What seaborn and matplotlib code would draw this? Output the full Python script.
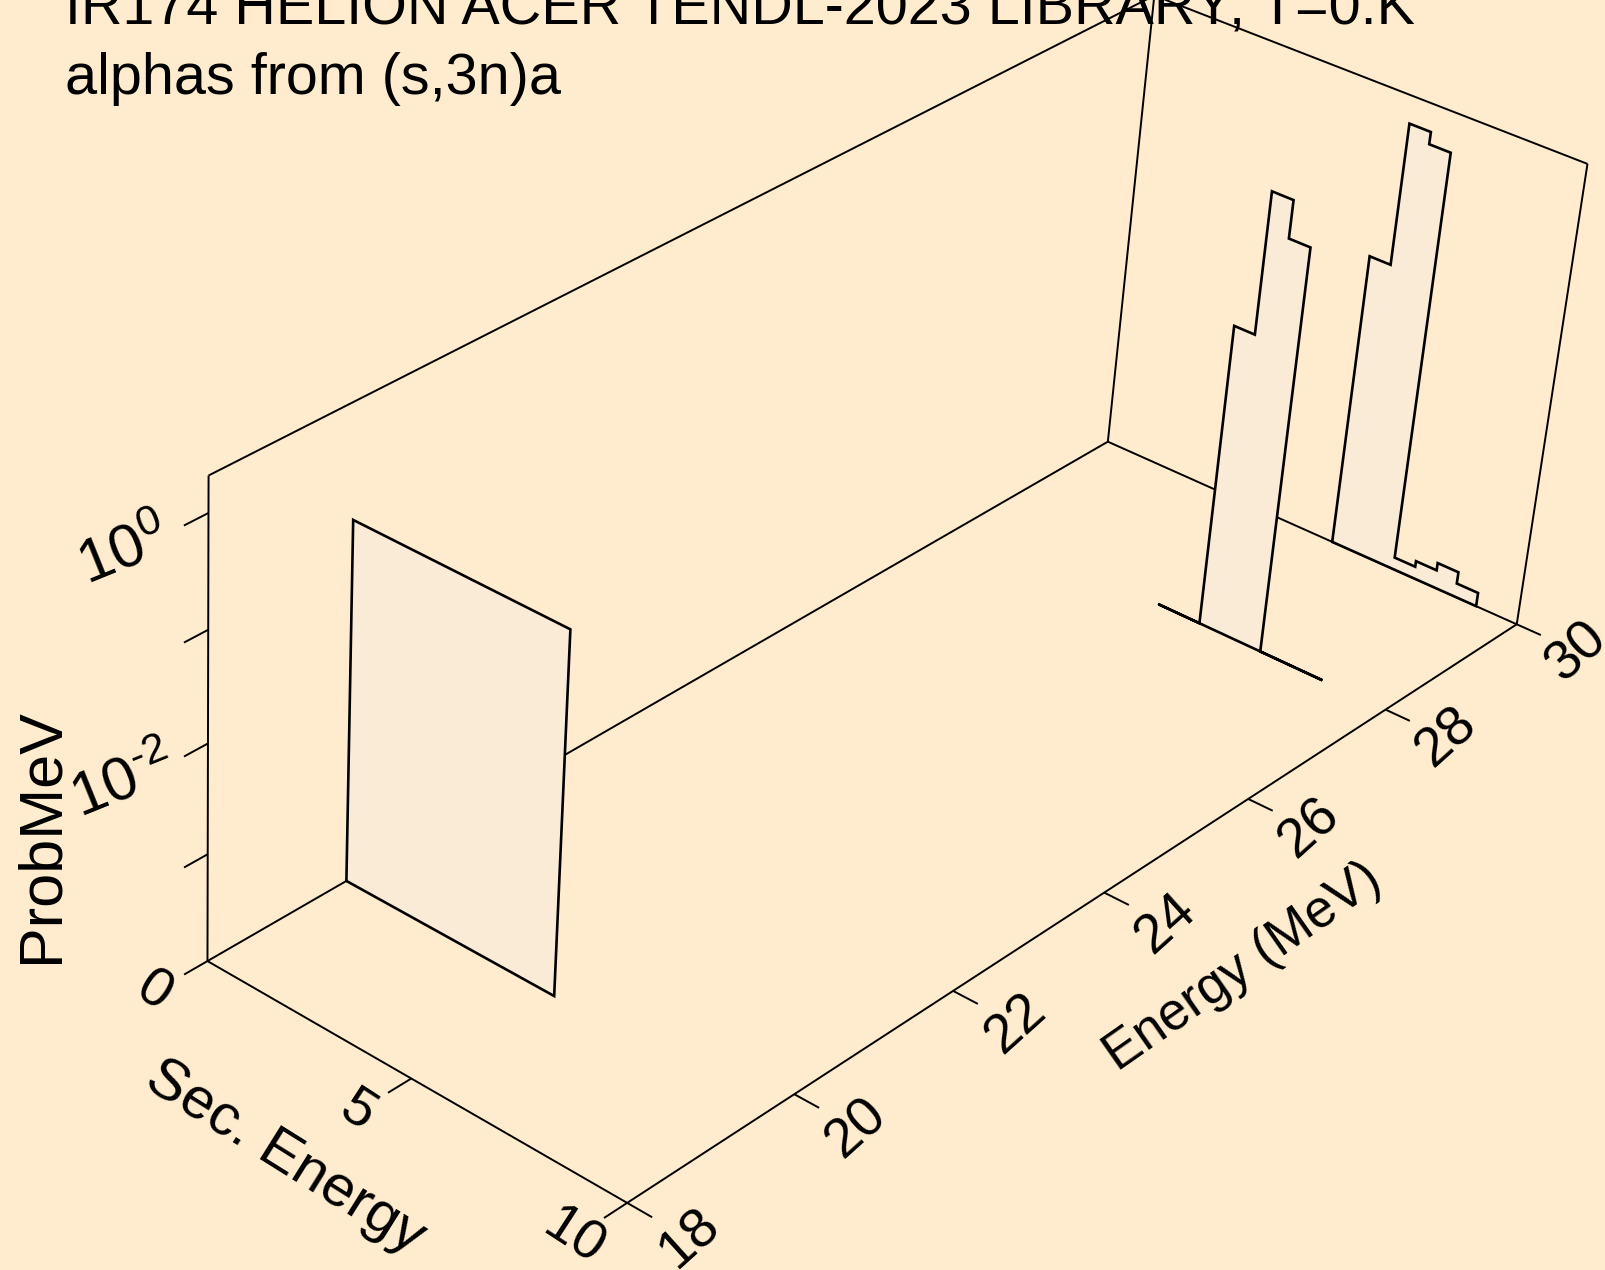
import numpy as np
import matplotlib
matplotlib.use("Agg")
import matplotlib.pyplot as plt
import seaborn as sns

sns.set_theme(style="white")
plt.rcParams["font.family"] = ["Liberation Sans", "DejaVu Sans"]
plt.rcParams["mathtext.fontset"] = "custom"
plt.rcParams["mathtext.rm"] = "Liberation Sans"
plt.rcParams["mathtext.it"] = "Liberation Sans:italic"

# ---------------------------------------------------------------- data
TITLE_LINES = ["IR174 HELION ACER TENDL-2023 LIBRARY; T=0.K", "alphas from (s,3n)a"]
SEC_LABEL = "Sec. Energy"
ENERGY_LABEL = "Energy (MeV)"
PROB_LABEL = "ProbMeV"

SEC_TICKS = [0, 5, 10]
ENERGY_TICKS = [18, 20, 22, 24, 26, 28, 30]
PROB_MAJOR_EXP = [0, -2]
PROB_MINOR_EXP = [-1, -3]

SEC_RANGE = (0.0, 10.0)
ENERGY_RANGE = (18.0, 30.0)
LOG_PROB_RANGE = (-3.99, 0.315)

# incident energies (MeV) and secondary-alpha spectra (histograms, prob/MeV)
incident_energy = [19.646, 28.0, 30.0]
sec_edges_1 = [0.0, 5.1]
prob_1 = [0.196]
sec_edges_2 = [4.62, 5.11, 5.60, 6.08, 6.57, 7.06, 7.55, 8.04, 8.53]
prob_2 = [0.0, 0.0, 0.0693, 1.371, 0.622, 0.0, 0.0, 0.0]
sec_edges_3 = [5.61, 6.10, 6.59, 7.08, 7.57, 8.06, 8.55, 9.05]
prob_3 = [0.0587, 1.167, 0.904, 1.33e-4, 1.51e-4, 1.78e-4, 1.38e-4]

spectra = [
    (incident_energy[0], sec_edges_1, prob_1),
    (incident_energy[1], sec_edges_2, prob_2),
    (incident_energy[2], sec_edges_3, prob_3),
]

# ---------------------------------------------------------------- view
BG = "#FFEBCD"
FILL = "#FAEBD7"
INK = "black"
W, H = 1605, 1270

# perspective camera: normalised box coords (u, v, w, 1) -> page pixels
VIEW = np.array([
    [384.78957, 1064.0437, -10.411268, 207.4651],
    [174.81639, -454.15404, -511.81983, 961.07257],
    [-0.055702171, 0.14772208, -0.055220181, 1.0],
])
ZMIN, ZMAX = LOG_PROB_RANGE


def project(sec, energy, logp):
    sec, energy, logp = np.broadcast_arrays(np.asarray(sec, float),
                                            np.asarray(energy, float),
                                            np.asarray(logp, float))
    u = (sec - SEC_RANGE[0]) / (SEC_RANGE[1] - SEC_RANGE[0])
    v = (energy - ENERGY_RANGE[0]) / (ENERGY_RANGE[1] - ENERGY_RANGE[0])
    w = (logp - ZMIN) / (ZMAX - ZMIN)
    h = VIEW @ np.vstack([u.ravel(), v.ravel(), w.ravel(), np.ones(u.size)])
    return (h[0] / h[2]).reshape(u.shape), (h[1] / h[2]).reshape(u.shape)


def step_outline(edges, probs):
    e = np.asarray(edges, float)
    p = np.asarray(probs, float)
    lz = np.full(p.shape, ZMIN)
    pos = p > 0
    lz[pos] = np.maximum(np.log10(p[pos]), ZMIN)
    s, z = [e[0]], [ZMIN]
    for i in range(len(p)):
        s += [e[i], e[i + 1]]
        z += [lz[i], lz[i]]
    s.append(e[-1])
    z.append(ZMIN)
    s.append(e[0])
    z.append(ZMIN)
    return np.array(s), np.array(z)


fig = plt.figure(figsize=(W / 100, H / 100), dpi=100, facecolor=BG)
ax = fig.add_axes([0, 0, 1, 1])
ax.set_facecolor(BG)

BOX_LW = 1.4
CURVE_LW = 1.9


def edge(p, q, zorder, lw=BOX_LW):
    xs, ys = project([p[0], q[0]], [p[1], q[1]], [p[2], q[2]])
    ax.plot(xs, ys, color=INK, lw=lw, zorder=zorder, solid_capstyle="butt")


s0, s1 = SEC_RANGE
e0, e1 = ENERGY_RANGE

# back walls of the box
for p, q in [((s0, e0, ZMIN), (s0, e1, ZMIN)), ((s0, e1, ZMIN), (s1, e1, ZMIN)),
             ((s0, e0, ZMIN), (s0, e0, ZMAX)), ((s0, e1, ZMIN), (s0, e1, ZMAX)),
             ((s1, e1, ZMIN), (s1, e1, ZMAX)), ((s0, e0, ZMAX), (s0, e1, ZMAX)),
             ((s0, e1, ZMAX), (s1, e1, ZMAX))]:
    edge(p, q, zorder=1)

# spectra, far to near
for k, (energy, edges, probs) in enumerate(sorted(spectra, key=lambda t: -t[0])):
    ss, zz = step_outline(edges, probs)
    xs, ys = project(ss, np.full(ss.size, energy), zz)
    ax.fill(xs, ys, color=FILL, zorder=2 + k, lw=0)
    sns.lineplot(x=xs, y=ys, sort=False, estimator=None, color=INK, linewidth=CURVE_LW,
                 ax=ax, zorder=2 + k)
    ax.lines[-1].set_solid_joinstyle("miter")

# front axes
edge((s0, e0, ZMIN), (s1, e0, ZMIN), zorder=6)
edge((s1, e0, ZMIN), (s1, e1, ZMIN), zorder=6)

TICK_E = 0.27   # tick length along energy (MeV)
TICK_S = 0.56   # tick length along secondary energy (MeV)
TICK_FS = 40

for z in PROB_MAJOR_EXP + PROB_MINOR_EXP:
    edge((s0, e0, z), (s0, e0 - TICK_E, z), zorder=6)
for z in PROB_MAJOR_EXP:
    x, y = project(s0, e0, z)
    expo = r"\mathit{%d}" % z if z >= 0 else r"\text{-}\mathit{%d}" % abs(z)
    ax.text(float(x) - 84, float(y) + 40, r"$\mathit{10}^{%s}$" % expo, fontsize=44,
            rotation=22, ha="center", va="center", color=INK, zorder=7)

for s in SEC_TICKS:
    edge((s, e0, ZMIN), (s, e0 - TICK_E, ZMIN), zorder=6)
    x, y = project(s, e0 - 0.62, ZMIN)
    ax.text(float(x), float(y), f"{s}", fontsize=TICK_FS, rotation=-33,
            ha="center", va="center", color=INK, zorder=7)

for e in ENERGY_TICKS:
    edge((s1, e, ZMIN), (s1 + TICK_S, e, ZMIN), zorder=6)
    x, y = project(s1 + 1.4, e, ZMIN)
    ax.text(float(x), float(y), f"{e}", fontsize=TICK_FS, rotation=42,
            ha="center", va="center", color=INK, zorder=7)

# axis titles
ax.text(285, 1157, SEC_LABEL, fontsize=42, rotation=-32, ha="center", va="center", color=INK)
ax.text(1243, 967, ENERGY_LABEL, fontsize=38, rotation=35, ha="center", va="center", color=INK)
ax.text(42, 836, PROB_LABEL, fontsize=44, rotation=90, ha="center", va="center", color=INK)

# title
ax.text(65, 25, TITLE_LINES[0], fontsize=41.4, ha="left", va="baseline", color=INK, zorder=0)
ax.text(65, 94, TITLE_LINES[1], fontsize=41.4, ha="left", va="baseline", color=INK, zorder=0)

ax.set_xlim(0, W)
ax.set_ylim(H, 0)
ax.axis("off")
fig.savefig("out.png", dpi=100, facecolor=BG)
